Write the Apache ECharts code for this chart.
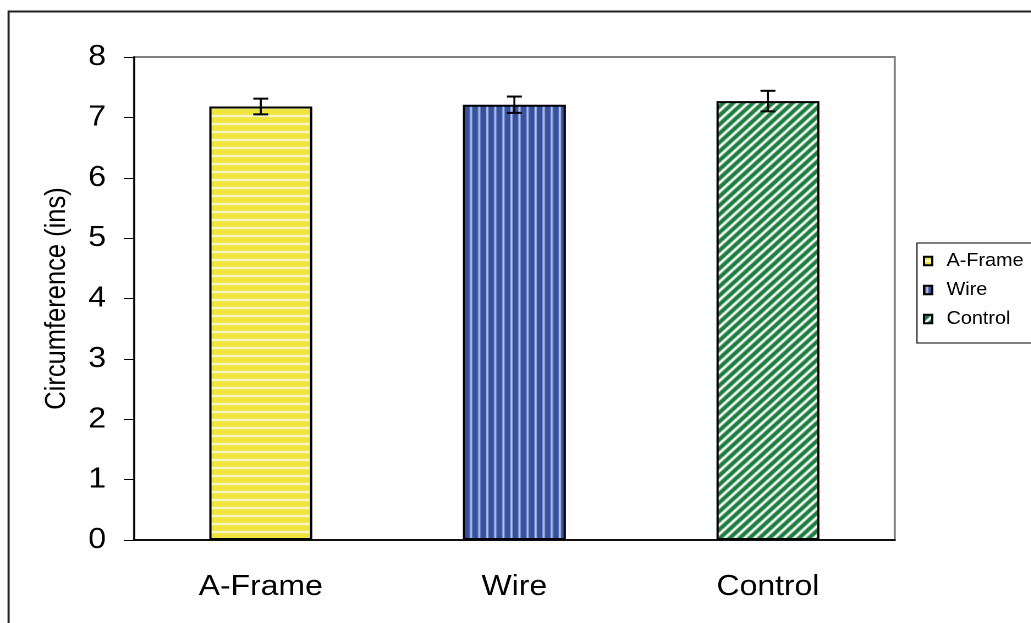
<!DOCTYPE html>
<html><head><meta charset="utf-8">
<script src="https://cdn.jsdelivr.net/npm/echarts@6/dist/echarts.min.js"></script>
<style>
html,body{margin:0;padding:0;background:#fff;overflow:hidden}
#wrap{width:1031px;height:623px;overflow:hidden;position:relative}
#c{width:937px;height:623px;transform:scaleX(1.1);transform-origin:0 0;position:absolute;left:0;top:0}
</style>
</head><body><div id="wrap"><div id="c"></div></div>
<script>
const categories = ['A-Frame', 'Wire', 'Control'];
const means = [7.18, 7.21, 7.27];
const errors = [0.13, 0.135, 0.17];
const yTicks = [0, 1, 2, 3, 4, 5, 6, 7, 8];
const yAxisTitle = 'Circumference (ins)';

function makePattern(kind) {
  const c = document.createElement('canvas');
  const g = c.getContext('2d');
  if (kind === 'h') {
    c.width = 8; c.height = 8;
    g.fillStyle = '#eee63e'; g.fillRect(0, 0, 8, 8);
    g.fillStyle = '#fbf8d8'; g.fillRect(0, 3, 8, 2);
  } else if (kind === 'v') {
    c.width = 22; c.height = 8;
    g.fillStyle = '#3451a2'; g.fillRect(0, 0, 22, 8);
    g.fillStyle = '#c6cfec';
    g.fillRect(2, 0, 1.8, 8); g.fillRect(9.33, 0, 1.8, 8); g.fillRect(16.67, 0, 1.8, 8);
  } else {
    const s = 9;
    c.width = s; c.height = s;
    g.fillStyle = '#1b7d3c'; g.fillRect(0, 0, s, s);
    g.strokeStyle = '#ffffff'; g.lineWidth = 2.5;
    g.beginPath();
    for (let k = -2; k <= 2; k++) {
      g.moveTo(k * s - 1, s + 1); g.lineTo(k * s + s + 1, -1);
    }
    g.stroke();
  }
  return c;
}
const patterns = [makePattern('h'), makePattern('v'), makePattern('d')];

const chart = echarts.init(document.getElementById('c'), null, { devicePixelRatio: 2 });
const font = 'Liberation Sans, Arial, sans-serif';

const barSeries = categories.map((name, i) => ({
  name: name,
  type: 'bar',
  stack: 'all',
  barWidth: '40.6%',
  data: categories.map((_, j) => j === i ? means[i] : '-'),
  itemStyle: {
    color: { image: patterns[i], repeat: 'repeat' },
    borderColor: '#000', borderWidth: 2
  },
  emphasis: { disabled: true },
  z: 2
}));

const errSeries = {
  type: 'custom',
  name: 'err',
  z: 5,
  data: categories.map((_, i) => [i, means[i] - errors[i], means[i] + errors[i]]),
  renderItem: function (params, api) {
    const x = api.value(0);
    const lo = api.coord([x, api.value(1)]);
    const hi = api.coord([x, api.value(2)]);
    const hw = 6.8;
    const st = { stroke: '#000', lineWidth: 2 };
    return {
      type: 'group',
      children: [
        { type: 'line', shape: { x1: lo[0], y1: lo[1], x2: hi[0], y2: hi[1] }, style: { stroke: '#000', lineWidth: 1.8 } },
        { type: 'line', shape: { x1: lo[0] - hw, y1: lo[1], x2: lo[0] + hw, y2: lo[1] }, style: st },
        { type: 'line', shape: { x1: hi[0] - hw, y1: hi[1], x2: hi[0] + hw, y2: hi[1] }, style: st }
      ]
    };
  }
};

chart.setOption({
  animation: false,
  backgroundColor: '#fff',
  textStyle: { fontFamily: font },
  graphic: [{
    type: 'rect', silent: true, z: -10,
    shape: { x: 7.8, y: 11.5, width: 980, height: 640 },
    style: { fill: 'none', stroke: '#222', lineWidth: 1.9 }
  }],
  grid: {
    left: 121.8, top: 57, right: 123.6, bottom: 83,
    show: true, borderColor: '#808080', borderWidth: 1.9, backgroundColor: 'transparent'
  },
  legend: {
    orient: 'vertical',
    left: 833.6, top: 243,
    padding: [9, 60, 15, 5.4],
    backgroundColor: '#fff',
    borderColor: '#000', borderWidth: 1,
    itemWidth: 7.5, itemHeight: 8.5, itemGap: 11,
    icon: 'rect',
    data: categories,
    textStyle: { fontSize: 18, color: '#000', fontFamily: font, padding: [0, 0, 0, 8] }
  },
  xAxis: {
    type: 'category',
    data: categories,
    axisLine: { lineStyle: { color: '#000', width: 1.8 } },
    axisTick: { length: 10, lineStyle: { color: '#000' } },
    axisLabel: { fontSize: 29, color: '#000', margin: 32.5, fontFamily: font }
  },
  yAxis: {
    type: 'value',
    min: yTicks[0], max: yTicks[yTicks.length - 1], interval: 1,
    name: yAxisTitle,
    nameLocation: 'middle',
    nameGap: 57,
    nameTextStyle: { fontSize: 25.5, color: '#000', fontFamily: font },
    axisLine: { show: true, lineStyle: { color: '#000', width: 1.6 } },
    axisTick: { show: true, length: 9, lineStyle: { color: '#000' } },
    axisLabel: { fontSize: 29, color: '#000', margin: 25.4, fontFamily: font },
    splitLine: { show: false }
  },
  series: [...barSeries, errSeries]
});
</script></body></html>
